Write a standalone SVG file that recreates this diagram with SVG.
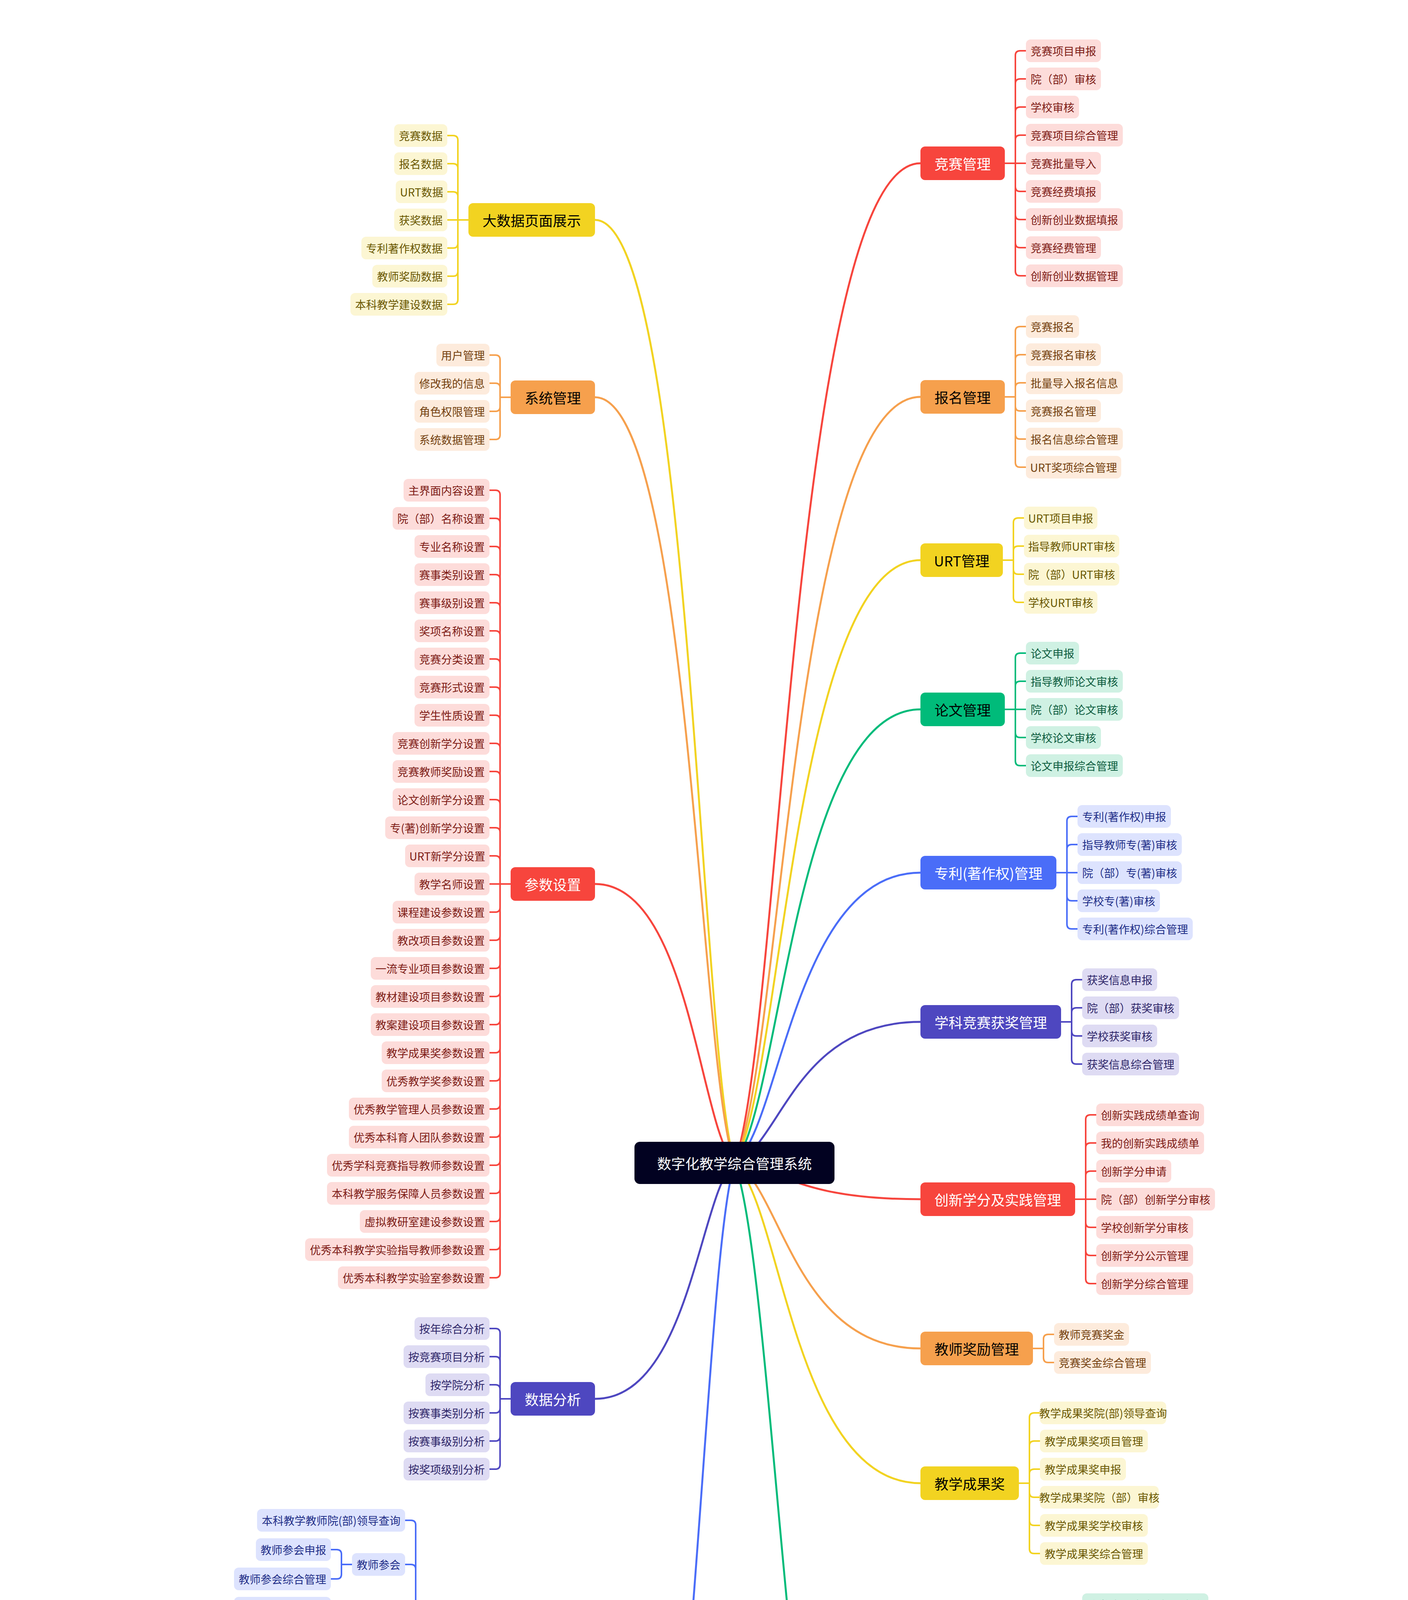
<svg xmlns="http://www.w3.org/2000/svg" width="3604" height="7462" viewBox="0 0 3604 7462">
<style>
text{font-family:"Noto Sans CJK SC","Noto Sans",sans-serif;text-anchor:middle;dominant-baseline:central}
.l text{font-size:28px}
.m text{font-size:36px}
.l rect{rx:12px}
.m rect{rx:12px}
.lr rect{fill:#FDDCDA}.lr text{fill:#7D1B15}
.lo rect{fill:#FDEBDC}.lo text{fill:#733F0E}
.ly rect{fill:#FCF6D3}.ly text{fill:#695700}
.lg rect{fill:#CFF1E3}.lg text{fill:#0C5C3E}
.lb rect{fill:#DDE3FE}.lb text{fill:#1F2E88}
.li rect{fill:#DEDBF3}.li text{fill:#2D2568}
.mr rect{fill:#F7453D}.mr text{fill:#FFFFFF}
.mo rect{fill:#F6A04D}.mo text{fill:#000000}
.my rect{fill:#F2D321}.my text{fill:#000000}
.mg rect{fill:#00BB7A}.mg text{fill:#000000}
.mb rect{fill:#4A6DF8}.mb text{fill:#FFFFFF}
.mi rect{fill:#4E47C0}.mi text{fill:#FFFFFF}
#root rect{fill:#020221}#root text{fill:#FFFFFF;font-size:36px}
.c{fill:none;stroke-width:4;stroke-linecap:round;stroke-linejoin:round}
.cv{fill:none;stroke-width:5;stroke-linecap:round}
.sr{stroke:#F7453D}.so{stroke:#F6A04D}.sy{stroke:#F2D321}.sg{stroke:#00BB7A}.sb{stroke:#4A6DF8}.si{stroke:#4E47C0}
.wm{font-family:"Open Sans","Noto Sans",sans-serif;font-size:38px;fill:#CCCCCC;dominant-baseline:auto}
</style>
<rect x="0" y="0" width="3604" height="7462" fill="#FFFFFF"/>
<g id="connectors">
<path class="cv sr" d="M1880 2977C1999 2670 2032 418 2356 418"/>
<path class="cv so" d="M1880 2977C1999 2742 2032 1016 2356 1016"/>
<path class="cv sy" d="M1880 2977C1999 2792 2032 1434 2356 1434"/>
<path class="cv sg" d="M1880 2977C1999 2838 2032 1816 2356 1816"/>
<path class="cv sb" d="M1880 2977C1999 2888 2032 2234 2356 2234"/>
<path class="cv si" d="M1880 2977C1999 2934 2032 2616 2356 2616"/>
<path class="cv sr" d="M1880 2977C1999 2988 2032 3070 2356 3070"/>
<path class="cv so" d="M1880 2977C1999 3034 2032 3452 2356 3452"/>
<path class="cv sy" d="M1880 2977C1999 3075 2032 3797 2356 3797"/>
<path class="cv sg" d="M1880 2977C1999 3284 2032 5537 2356 5537"/>
<path class="cv sy" d="M1880 2977C1791 2687 1766 563 1523 563"/>
<path class="cv so" d="M1880 2977C1791 2742 1766 1017 1523 1017"/>
<path class="cv sr" d="M1880 2977C1791 2891 1766 2263 1523 2263"/>
<path class="cv si" d="M1880 2977C1791 3049 1766 3581 1523 3581"/>
<path class="cv sb" d="M1880 2977C1791 3267 1766 5394 1523 5394"/>
<path class="c sr" d="M2572 418H2599M2599 418V142Q2599 130 2611 130H2626M2599 418V214Q2599 202 2611 202H2626M2599 418V286Q2599 274 2611 274H2626M2599 418V358Q2599 346 2611 346H2626M2599 418H2626M2599 418V478Q2599 490 2611 490H2626M2599 418V550Q2599 562 2611 562H2626M2599 418V622Q2599 634 2611 634H2626M2599 418V694Q2599 706 2611 706H2626"/>
<path class="c so" d="M2572 1016H2599M2599 1016V848Q2599 836 2611 836H2626M2599 1016V920Q2599 908 2611 908H2626M2599 1016V992Q2599 980 2611 980H2626M2599 1016V1040Q2599 1052 2611 1052H2626M2599 1016V1112Q2599 1124 2611 1124H2626M2599 1016V1184Q2599 1196 2611 1196H2626"/>
<path class="c sy" d="M2567 1434H2594M2594 1434V1338Q2594 1326 2606 1326H2621M2594 1434V1410Q2594 1398 2606 1398H2621M2594 1434V1458Q2594 1470 2606 1470H2621M2594 1434V1530Q2594 1542 2606 1542H2621"/>
<path class="c sg" d="M2572 1816H2599M2599 1816V1684Q2599 1672 2611 1672H2626M2599 1816V1756Q2599 1744 2611 1744H2626M2599 1816H2626M2599 1816V1876Q2599 1888 2611 1888H2626M2599 1816V1948Q2599 1960 2611 1960H2626"/>
<path class="c sb" d="M2704 2234H2731M2731 2234V2102Q2731 2090 2743 2090H2758M2731 2234V2174Q2731 2162 2743 2162H2758M2731 2234H2758M2731 2234V2294Q2731 2306 2743 2306H2758M2731 2234V2366Q2731 2378 2743 2378H2758"/>
<path class="c si" d="M2716 2616H2743M2743 2616V2520Q2743 2508 2755 2508H2770M2743 2616V2592Q2743 2580 2755 2580H2770M2743 2616V2640Q2743 2652 2755 2652H2770M2743 2616V2712Q2743 2724 2755 2724H2770"/>
<path class="c sr" d="M2752 3070H2779M2779 3070V2866Q2779 2854 2791 2854H2806M2779 3070V2938Q2779 2926 2791 2926H2806M2779 3070V3010Q2779 2998 2791 2998H2806M2779 3070H2806M2779 3070V3130Q2779 3142 2791 3142H2806M2779 3070V3202Q2779 3214 2791 3214H2806M2779 3070V3274Q2779 3286 2791 3286H2806"/>
<path class="c so" d="M2644 3452H2671M2671 3452V3428Q2671 3416 2683 3416H2698M2671 3452V3476Q2671 3488 2683 3488H2698"/>
<path class="c sy" d="M2608 3797H2635M2635 3797V3629Q2635 3617 2647 3617H2662M2635 3797V3701Q2635 3689 2647 3689H2662M2635 3797V3773Q2635 3761 2647 3761H2662M2635 3797V3821Q2635 3833 2647 3833H2662M2635 3797V3893Q2635 3905 2647 3905H2662M2635 3797V3965Q2635 3977 2647 3977H2662"/>
<path class="c sg" d="M2716 5537H2743M2743 5537V4120Q2743 4108 2755 4108H2770M2743 5537V4383Q2743 4371 2755 4371H2770M2743 5537V4797Q2743 4785 2755 4785H2770M2743 5537V5173Q2743 5161 2755 5161H2770M2743 5537H2770M2743 5537V5901Q2743 5913 2755 5913H2770M2743 5537V6277Q2743 6289 2755 6289H2770M2743 5537V6653Q2743 6665 2755 6665H2770M2743 5537V7029Q2743 7041 2755 7041H2770"/>
<path class="c sg" d="M2906 4371H2933M2933 4371V4195Q2933 4183 2945 4183H2960M2933 4371V4270Q2933 4258 2945 4258H2960M2933 4371V4346Q2933 4334 2945 4334H2960M2933 4371V4397Q2933 4409 2945 4409H2960M2933 4371V4472Q2933 4484 2945 4484H2960M2933 4371V4547Q2933 4559 2945 4559H2960"/>
<path class="c sg" d="M2906 4785H2933M2933 4785V4646Q2933 4634 2945 4634H2960M2933 4785V4722Q2933 4710 2945 4710H2960M2933 4785H2960M2933 4785V4848Q2933 4860 2945 4860H2960M2933 4785V4923Q2933 4935 2945 4935H2960"/>
<path class="c sg" d="M2906 5161H2933M2933 5161V5022Q2933 5010 2945 5010H2960M2933 5161V5098Q2933 5086 2945 5086H2960M2933 5161H2960M2933 5161V5224Q2933 5236 2945 5236H2960M2933 5161V5299Q2933 5311 2945 5311H2960"/>
<path class="c sg" d="M2962 5537H2989M2989 5537V5398Q2989 5386 3001 5386H3016M2989 5537V5474Q2989 5462 3001 5462H3016M2989 5537H3016M2989 5537V5600Q2989 5612 3001 5612H3016M2989 5537V5675Q2989 5687 3001 5687H3016"/>
<path class="c sg" d="M2906 5913H2933M2933 5913V5774Q2933 5762 2945 5762H2960M2933 5913V5850Q2933 5838 2945 5838H2960M2933 5913H2960M2933 5913V5976Q2933 5988 2945 5988H2960M2933 5913V6051Q2933 6063 2945 6063H2960"/>
<path class="c sg" d="M2906 6289H2933M2933 6289V6150Q2933 6138 2945 6138H2960M2933 6289V6226Q2933 6214 2945 6214H2960M2933 6289H2960M2933 6289V6352Q2933 6364 2945 6364H2960M2933 6289V6427Q2933 6439 2945 6439H2960"/>
<path class="c sg" d="M2990 6665H3017M3017 6665V6526Q3017 6514 3029 6514H3044M3017 6665V6602Q3017 6590 3029 6590H3044M3017 6665H3044M3017 6665V6728Q3017 6740 3029 6740H3044M3017 6665V6803Q3017 6815 3029 6815H3044"/>
<path class="c sg" d="M3046 7041H3073M3073 7041V6902Q3073 6890 3085 6890H3100M3073 7041V6978Q3073 6966 3085 6966H3100M3073 7041H3100M3073 7041V7104Q3073 7116 3085 7116H3100M3073 7041V7179Q3073 7191 3085 7191H3100"/>
<path class="c sy" d="M1199 563H1172M1172 563V359Q1172 347 1160 347H1145M1172 563V431Q1172 419 1160 419H1145M1172 563V503Q1172 491 1160 491H1145M1172 563H1145M1172 563V623Q1172 635 1160 635H1145M1172 563V695Q1172 707 1160 707H1145M1172 563V767Q1172 779 1160 779H1145"/>
<path class="c so" d="M1307 1017H1280M1280 1017V921Q1280 909 1268 909H1253M1280 1017V993Q1280 981 1268 981H1253M1280 1017V1041Q1280 1053 1268 1053H1253M1280 1017V1113Q1280 1125 1268 1125H1253"/>
<path class="c sr" d="M1307 2263H1280M1280 2263V1267Q1280 1255 1268 1255H1253M1280 2263V1339Q1280 1327 1268 1327H1253M1280 2263V1411Q1280 1399 1268 1399H1253M1280 2263V1483Q1280 1471 1268 1471H1253M1280 2263V1555Q1280 1543 1268 1543H1253M1280 2263V1627Q1280 1615 1268 1615H1253M1280 2263V1699Q1280 1687 1268 1687H1253M1280 2263V1771Q1280 1759 1268 1759H1253M1280 2263V1843Q1280 1831 1268 1831H1253M1280 2263V1915Q1280 1903 1268 1903H1253M1280 2263V1987Q1280 1975 1268 1975H1253M1280 2263V2059Q1280 2047 1268 2047H1253M1280 2263V2131Q1280 2119 1268 2119H1253M1280 2263V2203Q1280 2191 1268 2191H1253M1280 2263H1253M1280 2263V2323Q1280 2335 1268 2335H1253M1280 2263V2395Q1280 2407 1268 2407H1253M1280 2263V2467Q1280 2479 1268 2479H1253M1280 2263V2539Q1280 2551 1268 2551H1253M1280 2263V2611Q1280 2623 1268 2623H1253M1280 2263V2683Q1280 2695 1268 2695H1253M1280 2263V2755Q1280 2767 1268 2767H1253M1280 2263V2827Q1280 2839 1268 2839H1253M1280 2263V2899Q1280 2911 1268 2911H1253M1280 2263V2971Q1280 2983 1268 2983H1253M1280 2263V3043Q1280 3055 1268 3055H1253M1280 2263V3115Q1280 3127 1268 3127H1253M1280 2263V3187Q1280 3199 1268 3199H1253M1280 2263V3259Q1280 3271 1268 3271H1253"/>
<path class="c si" d="M1307 3581H1280M1280 3581V3413Q1280 3401 1268 3401H1253M1280 3581V3485Q1280 3473 1268 3473H1253M1280 3581V3557Q1280 3545 1268 3545H1253M1280 3581V3605Q1280 3617 1268 3617H1253M1280 3581V3677Q1280 3689 1268 3689H1253M1280 3581V3749Q1280 3761 1268 3761H1253"/>
<path class="c sb" d="M1091 5394H1064M1064 5394V3904Q1064 3892 1052 3892H1037M1064 5394V4017Q1064 4005 1052 4005H1037M1064 5394V4280Q1064 4268 1052 4268H1037M1064 5394V4655Q1064 4643 1052 4643H1037M1064 5394V5031Q1064 5019 1052 5019H1037M1064 5394H1037M1064 5394V5758Q1064 5770 1052 5770H1037M1064 5394V6133Q1064 6145 1052 6145H1037M1064 5394V6509Q1064 6521 1052 6521H1037M1064 5394V6922Q1064 6934 1052 6934H1037"/>
<path class="c sb" d="M901 4005H874M874 4005V3979Q874 3967 862 3967H847M874 4005V4030Q874 4042 862 4042H847"/>
<path class="c sb" d="M901 4268H874M874 4268V4129Q874 4117 862 4117H847M874 4268V4204Q874 4192 862 4192H847M874 4268H847M874 4268V4331Q874 4343 862 4343H847M874 4268V4406Q874 4418 862 4418H847"/>
<path class="c sb" d="M873 4643H846M846 4643V4505Q846 4493 834 4493H819M846 4643V4580Q846 4568 834 4568H819M846 4643H819M846 4643V4706Q846 4718 834 4718H819M846 4643V4781Q846 4793 834 4793H819"/>
<path class="c sb" d="M789 5019H762M762 5019V4880Q762 4868 750 4868H735M762 5019V4955Q762 4943 750 4943H735M762 5019H735M762 5019V5082Q762 5094 750 5094H735M762 5019V5157Q762 5169 750 5169H735"/>
<path class="c sb" d="M789 5394H762M762 5394V5256Q762 5244 750 5244H735M762 5394V5331Q762 5319 750 5319H735M762 5394H735M762 5394V5457Q762 5469 750 5469H735M762 5394V5532Q762 5544 750 5544H735"/>
<path class="c sb" d="M733 5770H706M706 5770V5631Q706 5619 694 5619H679M706 5770V5706Q706 5694 694 5694H679M706 5770H679M706 5770V5833Q706 5845 694 5845H679M706 5770V5908Q706 5920 694 5920H679"/>
<path class="c sb" d="M677 6145H650M650 6145V6007Q650 5995 638 5995H623M650 6145V6082Q650 6070 638 6070H623M650 6145H623M650 6145V6208Q650 6220 638 6220H623M650 6145V6283Q650 6295 638 6295H623"/>
<path class="c sb" d="M677 6521H650M650 6521V6382Q650 6370 638 6370H623M650 6521V6457Q650 6445 638 6445H623M650 6521H623M650 6521V6584Q650 6596 638 6596H623M650 6521V6659Q650 6671 638 6671H623"/>
<path class="c sb" d="M845 6934H818M818 6934V6758Q818 6746 806 6746H791M818 6934V6833Q818 6821 806 6821H791M818 6934V6908Q818 6896 806 6896H791M818 6934V6959Q818 6971 806 6971H791M818 6934V7034Q818 7046 806 7046H791M818 6934V7109Q818 7121 806 7121H791"/>
</g>
<g id="root"><rect x="1624" y="2923" width="512" height="108" rx="14"/><text x="1880" y="2977">数字化教学综合管理系统</text></g>
<g id="n-jsgl" class="m mr"><rect x="2356" y="375" width="216" height="86"/><text x="2464" y="418">竞赛管理</text></g>
<g id="a1" class="l lr"><rect x="2626" y="101" width="192" height="58"/><text x="2722" y="130">竞赛项目申报</text></g>
<g id="a2" class="l lr"><rect x="2626" y="173" width="192" height="58"/><text x="2722" y="202">院（部）审核</text></g>
<g id="a3" class="l lr"><rect x="2626" y="245" width="136" height="58"/><text x="2694" y="274">学校审核</text></g>
<g id="a4" class="l lr"><rect x="2626" y="317" width="248" height="58"/><text x="2750" y="346">竞赛项目综合管理</text></g>
<g id="a5" class="l lr"><rect x="2626" y="389" width="192" height="58"/><text x="2722" y="418">竞赛批量导入</text></g>
<g id="a6" class="l lr"><rect x="2626" y="461" width="192" height="58"/><text x="2722" y="490">竞赛经费填报</text></g>
<g id="a7" class="l lr"><rect x="2626" y="533" width="248" height="58"/><text x="2750" y="562">创新创业数据填报</text></g>
<g id="a8" class="l lr"><rect x="2626" y="605" width="192" height="58"/><text x="2722" y="634">竞赛经费管理</text></g>
<g id="a9" class="l lr"><rect x="2626" y="677" width="248" height="58"/><text x="2750" y="706">创新创业数据管理</text></g>
<g id="n-bmgl" class="m mo"><rect x="2356" y="973" width="216" height="86"/><text x="2464" y="1016">报名管理</text></g>
<g id="b1" class="l lo"><rect x="2626" y="807" width="136" height="58"/><text x="2694" y="836">竞赛报名</text></g>
<g id="b2" class="l lo"><rect x="2626" y="879" width="192" height="58"/><text x="2722" y="908">竞赛报名审核</text></g>
<g id="b3" class="l lo"><rect x="2626" y="951" width="248" height="58"/><text x="2750" y="980">批量导入报名信息</text></g>
<g id="b4" class="l lo"><rect x="2626" y="1023" width="192" height="58"/><text x="2722" y="1052">竞赛报名管理</text></g>
<g id="b5" class="l lo"><rect x="2626" y="1095" width="248" height="58"/><text x="2750" y="1124">报名信息综合管理</text></g>
<g id="b6" class="l lo"><rect x="2626" y="1167" width="244" height="58"/><text x="2748" y="1196">URT奖项综合管理</text></g>
<g id="n-urt" class="m my"><rect x="2356" y="1391" width="211" height="86"/><text x="2461.5" y="1434">URT管理</text></g>
<g id="c1" class="l ly"><rect x="2621" y="1297" width="188" height="58"/><text x="2715" y="1326">URT项目申报</text></g>
<g id="c2" class="l ly"><rect x="2621" y="1369" width="244" height="58"/><text x="2743" y="1398">指导教师URT审核</text></g>
<g id="c3" class="l ly"><rect x="2621" y="1441" width="244" height="58"/><text x="2743" y="1470">院（部）URT审核</text></g>
<g id="c4" class="l ly"><rect x="2621" y="1513" width="188" height="58"/><text x="2715" y="1542">学校URT审核</text></g>
<g id="n-lw" class="m mg"><rect x="2356" y="1773" width="216" height="86"/><text x="2464" y="1816">论文管理</text></g>
<g id="d1" class="l lg"><rect x="2626" y="1643" width="136" height="58"/><text x="2694" y="1672">论文申报</text></g>
<g id="d2" class="l lg"><rect x="2626" y="1715" width="248" height="58"/><text x="2750" y="1744">指导教师论文审核</text></g>
<g id="d3" class="l lg"><rect x="2626" y="1787" width="248" height="58"/><text x="2750" y="1816">院（部）论文审核</text></g>
<g id="d4" class="l lg"><rect x="2626" y="1859" width="192" height="58"/><text x="2722" y="1888">学校论文审核</text></g>
<g id="d5" class="l lg"><rect x="2626" y="1931" width="248" height="58"/><text x="2750" y="1960">论文申报综合管理</text></g>
<g id="n-zl" class="m mb"><rect x="2356" y="2191" width="348" height="86"/><text x="2530" y="2234">专利(著作权)管理</text></g>
<g id="e1" class="l lb"><rect x="2758" y="2061" width="239" height="58"/><text x="2877.5" y="2090">专利(著作权)申报</text></g>
<g id="e2" class="l lb"><rect x="2758" y="2133" width="267" height="58"/><text x="2891.5" y="2162">指导教师专(著)审核</text></g>
<g id="e3" class="l lb"><rect x="2758" y="2205" width="267" height="58"/><text x="2891.5" y="2234">院（部）专(著)审核</text></g>
<g id="e4" class="l lb"><rect x="2758" y="2277" width="211" height="58"/><text x="2863.5" y="2306">学校专(著)审核</text></g>
<g id="e5" class="l lb"><rect x="2758" y="2349" width="295" height="58"/><text x="2905.5" y="2378">专利(著作权)综合管理</text></g>
<g id="n-xkjs" class="m mi"><rect x="2356" y="2573" width="360" height="86"/><text x="2536" y="2616">学科竞赛获奖管理</text></g>
<g id="f1" class="l li"><rect x="2770" y="2479" width="192" height="58"/><text x="2866" y="2508">获奖信息申报</text></g>
<g id="f2" class="l li"><rect x="2770" y="2551" width="248" height="58"/><text x="2894" y="2580">院（部）获奖审核</text></g>
<g id="f3" class="l li"><rect x="2770" y="2623" width="192" height="58"/><text x="2866" y="2652">学校获奖审核</text></g>
<g id="f4" class="l li"><rect x="2770" y="2695" width="248" height="58"/><text x="2894" y="2724">获奖信息综合管理</text></g>
<g id="n-cxxf" class="m mr"><rect x="2356" y="3027" width="396" height="86"/><text x="2554" y="3070">创新学分及实践管理</text></g>
<g id="g1" class="l lr"><rect x="2806" y="2825" width="276" height="58"/><text x="2944" y="2854">创新实践成绩单查询</text></g>
<g id="g2" class="l lr"><rect x="2806" y="2897" width="276" height="58"/><text x="2944" y="2926">我的创新实践成绩单</text></g>
<g id="g3" class="l lr"><rect x="2806" y="2969" width="192" height="58"/><text x="2902" y="2998">创新学分申请</text></g>
<g id="g4" class="l lr"><rect x="2806" y="3041" width="304" height="58"/><text x="2958" y="3070">院（部）创新学分审核</text></g>
<g id="g5" class="l lr"><rect x="2806" y="3113" width="248" height="58"/><text x="2930" y="3142">学校创新学分审核</text></g>
<g id="g6" class="l lr"><rect x="2806" y="3185" width="248" height="58"/><text x="2930" y="3214">创新学分公示管理</text></g>
<g id="g7" class="l lr"><rect x="2806" y="3257" width="248" height="58"/><text x="2930" y="3286">创新学分综合管理</text></g>
<g id="n-jsjl" class="m mo"><rect x="2356" y="3409" width="288" height="86"/><text x="2500" y="3452">教师奖励管理</text></g>
<g id="h1" class="l lo"><rect x="2698" y="3387" width="192" height="58"/><text x="2794" y="3416">教师竞赛奖金</text></g>
<g id="h2" class="l lo"><rect x="2698" y="3459" width="248" height="58"/><text x="2822" y="3488">竞赛奖金综合管理</text></g>
<g id="n-cgj" class="m my"><rect x="2356" y="3754" width="252" height="86"/><text x="2482" y="3797">教学成果奖</text></g>
<g id="i1" class="l ly"><rect x="2662" y="3588" width="323" height="58"/><text x="2823.5" y="3617">教学成果奖院(部)领导查询</text></g>
<g id="i2" class="l ly"><rect x="2662" y="3660" width="276" height="58"/><text x="2800" y="3689">教学成果奖项目管理</text></g>
<g id="i3" class="l ly"><rect x="2662" y="3732" width="220" height="58"/><text x="2772" y="3761">教学成果奖申报</text></g>
<g id="i4" class="l ly"><rect x="2662" y="3804" width="304" height="58"/><text x="2814" y="3833">教学成果奖院（部）审核</text></g>
<g id="i5" class="l ly"><rect x="2662" y="3876" width="276" height="58"/><text x="2800" y="3905">教学成果奖学校审核</text></g>
<g id="i6" class="l ly"><rect x="2662" y="3948" width="276" height="58"/><text x="2800" y="3977">教学成果奖综合管理</text></g>
<g id="n-bkjs" class="m mg"><rect x="2356" y="5494" width="360" height="86"/><text x="2536" y="5537">本科教学建设项目</text></g>
<g id="j0" class="l lg"><rect x="2770" y="4079" width="323" height="58"/><text x="2931.5" y="4108">教学建设院(部)领导查询</text></g>
<g id="j1" class="l lg"><rect x="2770" y="4342" width="136" height="58"/><text x="2838" y="4371">外聘教师</text></g>
<g id="j2" class="l lg"><rect x="2770" y="4756" width="136" height="58"/><text x="2838" y="4785">课程建设</text></g>
<g id="j3" class="l lg"><rect x="2770" y="5132" width="136" height="58"/><text x="2838" y="5161">教改项目</text></g>
<g id="j4" class="l lg"><rect x="2770" y="5508" width="192" height="58"/><text x="2866" y="5537">一流专业建设</text></g>
<g id="j5" class="l lg"><rect x="2770" y="5884" width="136" height="58"/><text x="2838" y="5913">教材建设</text></g>
<g id="j6" class="l lg"><rect x="2770" y="6260" width="136" height="58"/><text x="2838" y="6289">教案建设</text></g>
<g id="j7" class="l lg"><rect x="2770" y="6636" width="220" height="58"/><text x="2880" y="6665">虚拟教研室建设</text></g>
<g id="j8" class="l lg"><rect x="2770" y="7012" width="276" height="58"/><text x="2908" y="7041">优秀本科教学实验室</text></g>
<g id="j1a" class="l lg"><rect x="2960" y="4154" width="248" height="58"/><text x="3084" y="4183">外聘教师项目管理</text></g>
<g id="j1b" class="l lg"><rect x="2960" y="4229" width="248" height="58"/><text x="3084" y="4258">外聘教师项目申报</text></g>
<g id="j1c" class="l lg"><rect x="2960" y="4305" width="267" height="58"/><text x="3093.5" y="4334">外聘教师院(部)审核</text></g>
<g id="j1d" class="l lg"><rect x="2960" y="4380" width="323" height="58"/><text x="3121.5" y="4409">外聘教师院(部)领导审核</text></g>
<g id="j1e" class="l lg"><rect x="2960" y="4455" width="248" height="58"/><text x="3084" y="4484">外聘教师学校审核</text></g>
<g id="j1f" class="l lg"><rect x="2960" y="4530" width="248" height="58"/><text x="3084" y="4559">外聘教师综合管理</text></g>
<g id="j2a" class="l lg"><rect x="2960" y="4605" width="248" height="58"/><text x="3084" y="4634">课程建设项目管理</text></g>
<g id="j2b" class="l lg"><rect x="2960" y="4681" width="192" height="58"/><text x="3056" y="4710">课程建设申报</text></g>
<g id="j2c" class="l lg"><rect x="2960" y="4756" width="304" height="58"/><text x="3112" y="4785">课程建设院（部）审核</text></g>
<g id="j2d" class="l lg"><rect x="2960" y="4831" width="248" height="58"/><text x="3084" y="4860">课程建设学校审核</text></g>
<g id="j2e" class="l lg"><rect x="2960" y="4906" width="304" height="58"/><text x="3112" y="4935">课程建设申报综合管理</text></g>
<g id="j3a" class="l lg"><rect x="2960" y="4981" width="192" height="58"/><text x="3056" y="5010">教改项目管理</text></g>
<g id="j3b" class="l lg"><rect x="2960" y="5057" width="192" height="58"/><text x="3056" y="5086">教改项目申报</text></g>
<g id="j3c" class="l lg"><rect x="2960" y="5132" width="304" height="58"/><text x="3112" y="5161">教改项目院（部）审核</text></g>
<g id="j3d" class="l lg"><rect x="2960" y="5207" width="248" height="58"/><text x="3084" y="5236">教改项目学校审核</text></g>
<g id="j3e" class="l lg"><rect x="2960" y="5282" width="304" height="58"/><text x="3112" y="5311">教改项目申报综合管理</text></g>
<g id="j4a" class="l lg"><rect x="3016" y="5357" width="304" height="58"/><text x="3168" y="5386">一流专业建设项目管理</text></g>
<g id="j4b" class="l lg"><rect x="3016" y="5433" width="248" height="58"/><text x="3140" y="5462">一流专业建设申报</text></g>
<g id="j4c" class="l lg"><rect x="3016" y="5508" width="323" height="58"/><text x="3177.5" y="5537">一流专业建设院(部)审核</text></g>
<g id="j4d" class="l lg"><rect x="3016" y="5583" width="304" height="58"/><text x="3168" y="5612">一流专业建设学校审核</text></g>
<g id="j4e" class="l lg"><rect x="3016" y="5658" width="304" height="58"/><text x="3168" y="5687">一流专业建设综合管理</text></g>
<g id="j5a" class="l lg"><rect x="2960" y="5733" width="248" height="58"/><text x="3084" y="5762">教材建设项目管理</text></g>
<g id="j5b" class="l lg"><rect x="2960" y="5809" width="192" height="58"/><text x="3056" y="5838">教材建设申报</text></g>
<g id="j5c" class="l lg"><rect x="2960" y="5884" width="267" height="58"/><text x="3093.5" y="5913">教材建设院(部)审核</text></g>
<g id="j5d" class="l lg"><rect x="2960" y="5959" width="248" height="58"/><text x="3084" y="5988">教材建设学校审核</text></g>
<g id="j5e" class="l lg"><rect x="2960" y="6034" width="248" height="58"/><text x="3084" y="6063">教材建设综合管理</text></g>
<g id="j6a" class="l lg"><rect x="2960" y="6109" width="248" height="58"/><text x="3084" y="6138">教案建设项目管理</text></g>
<g id="j6b" class="l lg"><rect x="2960" y="6185" width="192" height="58"/><text x="3056" y="6214">教案建设申报</text></g>
<g id="j6c" class="l lg"><rect x="2960" y="6260" width="267" height="58"/><text x="3093.5" y="6289">教案建设院(部)审核</text></g>
<g id="j6d" class="l lg"><rect x="2960" y="6335" width="248" height="58"/><text x="3084" y="6364">教案建设学校审核</text></g>
<g id="j6e" class="l lg"><rect x="2960" y="6410" width="248" height="58"/><text x="3084" y="6439">教案建设综合管理</text></g>
<g id="j7a" class="l lg"><rect x="3044" y="6485" width="332" height="58"/><text x="3210" y="6514">虚拟教研室建设项目管理</text></g>
<g id="j7b" class="l lg"><rect x="3044" y="6561" width="220" height="58"/><text x="3154" y="6590">虚拟教研室申报</text></g>
<g id="j7c" class="l lg"><rect x="3044" y="6636" width="295" height="58"/><text x="3191.5" y="6665">虚拟教研室院(部)审核</text></g>
<g id="j7d" class="l lg"><rect x="3044" y="6711" width="276" height="58"/><text x="3182" y="6740">虚拟教研室学校审核</text></g>
<g id="j7e" class="l lg"><rect x="3044" y="6786" width="276" height="58"/><text x="3182" y="6815">虚拟教研室综合管理</text></g>
<g id="j8a" class="l lg"><rect x="3100" y="6861" width="388" height="58"/><text x="3294" y="6890">优秀本科教学实验室项目管理</text></g>
<g id="j8b" class="l lg"><rect x="3100" y="6937" width="332" height="58"/><text x="3266" y="6966">优秀本科教学实验室申报</text></g>
<g id="j8c" class="l lg"><rect x="3100" y="7012" width="407" height="58"/><text x="3303.5" y="7041">优秀本科教学实验室院(部)审核</text></g>
<g id="j8d" class="l lg"><rect x="3100" y="7087" width="388" height="58"/><text x="3294" y="7116">优秀本科教学实验室学校审核</text></g>
<g id="j8e" class="l lg"><rect x="3100" y="7162" width="388" height="58"/><text x="3294" y="7191">优秀本科教学实验室综合管理</text></g>
<g id="n-dsj" class="m my"><rect x="1199" y="520" width="324" height="86"/><text x="1361" y="563">大数据页面展示</text></g>
<g id="k1" class="l ly"><rect x="1009" y="318" width="136" height="58"/><text x="1077" y="347">竞赛数据</text></g>
<g id="k2" class="l ly"><rect x="1009" y="390" width="136" height="58"/><text x="1077" y="419">报名数据</text></g>
<g id="k3" class="l ly"><rect x="1013" y="462" width="132" height="58"/><text x="1079" y="491">URT数据</text></g>
<g id="k4" class="l ly"><rect x="1009" y="534" width="136" height="58"/><text x="1077" y="563">获奖数据</text></g>
<g id="k5" class="l ly"><rect x="925" y="606" width="220" height="58"/><text x="1035" y="635">专利著作权数据</text></g>
<g id="k6" class="l ly"><rect x="953" y="678" width="192" height="58"/><text x="1049" y="707">教师奖励数据</text></g>
<g id="k7" class="l ly"><rect x="897" y="750" width="248" height="58"/><text x="1021" y="779">本科教学建设数据</text></g>
<g id="n-xtgl" class="m mo"><rect x="1307" y="974" width="216" height="86"/><text x="1415" y="1017">系统管理</text></g>
<g id="l1" class="l lo"><rect x="1117" y="880" width="136" height="58"/><text x="1185" y="909">用户管理</text></g>
<g id="l2" class="l lo"><rect x="1061" y="952" width="192" height="58"/><text x="1157" y="981">修改我的信息</text></g>
<g id="l3" class="l lo"><rect x="1061" y="1024" width="192" height="58"/><text x="1157" y="1053">角色权限管理</text></g>
<g id="l4" class="l lo"><rect x="1061" y="1096" width="192" height="58"/><text x="1157" y="1125">系统数据管理</text></g>
<g id="n-cssz" class="m mr"><rect x="1307" y="2220" width="216" height="86"/><text x="1415" y="2263">参数设置</text></g>
<g id="m0" class="l lr"><rect x="1033" y="1226" width="220" height="58"/><text x="1143" y="1255">主界面内容设置</text></g>
<g id="m1" class="l lr"><rect x="1005" y="1298" width="248" height="58"/><text x="1129" y="1327">院（部）名称设置</text></g>
<g id="m2" class="l lr"><rect x="1061" y="1370" width="192" height="58"/><text x="1157" y="1399">专业名称设置</text></g>
<g id="m3" class="l lr"><rect x="1061" y="1442" width="192" height="58"/><text x="1157" y="1471">赛事类别设置</text></g>
<g id="m4" class="l lr"><rect x="1061" y="1514" width="192" height="58"/><text x="1157" y="1543">赛事级别设置</text></g>
<g id="m5" class="l lr"><rect x="1061" y="1586" width="192" height="58"/><text x="1157" y="1615">奖项名称设置</text></g>
<g id="m6" class="l lr"><rect x="1061" y="1658" width="192" height="58"/><text x="1157" y="1687">竞赛分类设置</text></g>
<g id="m7" class="l lr"><rect x="1061" y="1730" width="192" height="58"/><text x="1157" y="1759">竞赛形式设置</text></g>
<g id="m8" class="l lr"><rect x="1061" y="1802" width="192" height="58"/><text x="1157" y="1831">学生性质设置</text></g>
<g id="m9" class="l lr"><rect x="1005" y="1874" width="248" height="58"/><text x="1129" y="1903">竞赛创新学分设置</text></g>
<g id="m10" class="l lr"><rect x="1005" y="1946" width="248" height="58"/><text x="1129" y="1975">竞赛教师奖励设置</text></g>
<g id="m11" class="l lr"><rect x="1005" y="2018" width="248" height="58"/><text x="1129" y="2047">论文创新学分设置</text></g>
<g id="m12" class="l lr"><rect x="986" y="2090" width="267" height="58"/><text x="1119.5" y="2119">专(著)创新学分设置</text></g>
<g id="m13" class="l lr"><rect x="1037" y="2162" width="216" height="58"/><text x="1145" y="2191">URT新学分设置</text></g>
<g id="m14" class="l lr"><rect x="1061" y="2234" width="192" height="58"/><text x="1157" y="2263">教学名师设置</text></g>
<g id="m15" class="l lr"><rect x="1005" y="2306" width="248" height="58"/><text x="1129" y="2335">课程建设参数设置</text></g>
<g id="m16" class="l lr"><rect x="1005" y="2378" width="248" height="58"/><text x="1129" y="2407">教改项目参数设置</text></g>
<g id="m17" class="l lr"><rect x="949" y="2450" width="304" height="58"/><text x="1101" y="2479">一流专业项目参数设置</text></g>
<g id="m18" class="l lr"><rect x="949" y="2522" width="304" height="58"/><text x="1101" y="2551">教材建设项目参数设置</text></g>
<g id="m19" class="l lr"><rect x="949" y="2594" width="304" height="58"/><text x="1101" y="2623">教案建设项目参数设置</text></g>
<g id="m20" class="l lr"><rect x="977" y="2666" width="276" height="58"/><text x="1115" y="2695">教学成果奖参数设置</text></g>
<g id="m21" class="l lr"><rect x="977" y="2738" width="276" height="58"/><text x="1115" y="2767">优秀教学奖参数设置</text></g>
<g id="m22" class="l lr"><rect x="893" y="2810" width="360" height="58"/><text x="1073" y="2839">优秀教学管理人员参数设置</text></g>
<g id="m23" class="l lr"><rect x="893" y="2882" width="360" height="58"/><text x="1073" y="2911">优秀本科育人团队参数设置</text></g>
<g id="m24" class="l lr"><rect x="837" y="2954" width="416" height="58"/><text x="1045" y="2983">优秀学科竞赛指导教师参数设置</text></g>
<g id="m25" class="l lr"><rect x="837" y="3026" width="416" height="58"/><text x="1045" y="3055">本科教学服务保障人员参数设置</text></g>
<g id="m26" class="l lr"><rect x="921" y="3098" width="332" height="58"/><text x="1087" y="3127">虚拟教研室建设参数设置</text></g>
<g id="m27" class="l lr"><rect x="781" y="3170" width="472" height="58"/><text x="1017" y="3199">优秀本科教学实验指导教师参数设置</text></g>
<g id="m28" class="l lr"><rect x="865" y="3242" width="388" height="58"/><text x="1059" y="3271">优秀本科教学实验室参数设置</text></g>
<g id="n-sjfx" class="m mi"><rect x="1307" y="3538" width="216" height="86"/><text x="1415" y="3581">数据分析</text></g>
<g id="p1" class="l li"><rect x="1061" y="3372" width="192" height="58"/><text x="1157" y="3401">按年综合分析</text></g>
<g id="p2" class="l li"><rect x="1033" y="3444" width="220" height="58"/><text x="1143" y="3473">按竞赛项目分析</text></g>
<g id="p3" class="l li"><rect x="1089" y="3516" width="164" height="58"/><text x="1171" y="3545">按学院分析</text></g>
<g id="p4" class="l li"><rect x="1033" y="3588" width="220" height="58"/><text x="1143" y="3617">按赛事类别分析</text></g>
<g id="p5" class="l li"><rect x="1033" y="3660" width="220" height="58"/><text x="1143" y="3689">按赛事级别分析</text></g>
<g id="p6" class="l li"><rect x="1033" y="3732" width="220" height="58"/><text x="1143" y="3761">按奖项级别分析</text></g>
<g id="n-ry" class="m mb"><rect x="1091" y="5351" width="432" height="86"/><text x="1307" y="5394">本科教学教师荣誉项目</text></g>
<g id="o0" class="l lb"><rect x="658" y="3863" width="379" height="58"/><text x="847.5" y="3892">本科教学教师院(部)领导查询</text></g>
<g id="o1" class="l lb"><rect x="901" y="3976" width="136" height="58"/><text x="969" y="4005">教师参会</text></g>
<g id="o2" class="l lb"><rect x="901" y="4239" width="136" height="58"/><text x="969" y="4268">教学名师</text></g>
<g id="o3" class="l lb"><rect x="873" y="4614" width="164" height="58"/><text x="955" y="4643">优秀教学奖</text></g>
<g id="o4" class="l lb"><rect x="789" y="4990" width="248" height="58"/><text x="913" y="5019">优秀教学管理人员</text></g>
<g id="o5" class="l lb"><rect x="789" y="5365" width="248" height="58"/><text x="913" y="5394">优秀本科育人团队</text></g>
<g id="o6" class="l lb"><rect x="733" y="5741" width="304" height="58"/><text x="885" y="5770">优秀学科竞赛指导教师</text></g>
<g id="o7" class="l lb"><rect x="677" y="6116" width="360" height="58"/><text x="857" y="6145">优秀本科教学服务保障人员</text></g>
<g id="o8" class="l lb"><rect x="677" y="6492" width="360" height="58"/><text x="857" y="6521">优秀本科教学实验指导教师</text></g>
<g id="o9" class="l lb"><rect x="845" y="6905" width="192" height="58"/><text x="941" y="6934">教学技能竞赛</text></g>
<g id="o1a" class="l lb"><rect x="655" y="3938" width="192" height="58"/><text x="751" y="3967">教师参会申报</text></g>
<g id="o1b" class="l lb"><rect x="599" y="4013" width="248" height="58"/><text x="723" y="4042">教师参会综合管理</text></g>
<g id="o2a" class="l lb"><rect x="599" y="4088" width="248" height="58"/><text x="723" y="4117">教学名师项目管理</text></g>
<g id="o2b" class="l lb"><rect x="655" y="4163" width="192" height="58"/><text x="751" y="4192">教学名师申报</text></g>
<g id="o2c" class="l lb"><rect x="543" y="4239" width="304" height="58"/><text x="695" y="4268">教学名师院（部）审核</text></g>
<g id="o2d" class="l lb"><rect x="599" y="4314" width="248" height="58"/><text x="723" y="4343">教学名师学校审核</text></g>
<g id="o2e" class="l lb"><rect x="543" y="4389" width="304" height="58"/><text x="695" y="4418">教学名师申报综合管理</text></g>
<g id="o3a" class="l lb"><rect x="543" y="4464" width="276" height="58"/><text x="681" y="4493">优秀教学奖项目管理</text></g>
<g id="o3b" class="l lb"><rect x="599" y="4539" width="220" height="58"/><text x="709" y="4568">优秀教学奖申报</text></g>
<g id="o3c" class="l lb"><rect x="487" y="4614" width="332" height="58"/><text x="653" y="4643">优秀教学奖院（部）审核</text></g>
<g id="o3d" class="l lb"><rect x="543" y="4689" width="276" height="58"/><text x="681" y="4718">优秀教学奖学校审核</text></g>
<g id="o3e" class="l lb"><rect x="543" y="4764" width="276" height="58"/><text x="681" y="4793">优秀教学奖查询管理</text></g>
<g id="o4a" class="l lb"><rect x="375" y="4839" width="360" height="58"/><text x="555" y="4868">优秀教学管理人员项目管理</text></g>
<g id="o4b" class="l lb"><rect x="431" y="4914" width="304" height="58"/><text x="583" y="4943">优秀教学管理人员申报</text></g>
<g id="o4c" class="l lb"><rect x="319" y="4990" width="416" height="58"/><text x="527" y="5019">优秀教学管理人员院（部）审核</text></g>
<g id="o4d" class="l lb"><rect x="375" y="5065" width="360" height="58"/><text x="555" y="5094">优秀教学管理人员学校审核</text></g>
<g id="o4e" class="l lb"><rect x="375" y="5140" width="360" height="58"/><text x="555" y="5169">优秀教学管理人员查询管理</text></g>
<g id="o5a" class="l lb"><rect x="375" y="5215" width="360" height="58"/><text x="555" y="5244">优秀本科育人团队项目管理</text></g>
<g id="o5b" class="l lb"><rect x="431" y="5290" width="304" height="58"/><text x="583" y="5319">优秀本科育人团队申报</text></g>
<g id="o5c" class="l lb"><rect x="319" y="5365" width="416" height="58"/><text x="527" y="5394">优秀本科育人团队院（部）审核</text></g>
<g id="o5d" class="l lb"><rect x="375" y="5440" width="360" height="58"/><text x="555" y="5469">优秀本科育人团队学校审核</text></g>
<g id="o5e" class="l lb"><rect x="375" y="5515" width="360" height="58"/><text x="555" y="5544">优秀本科育人团队查询管理</text></g>
<g id="o6a" class="l lb"><rect x="263" y="5590" width="416" height="58"/><text x="471" y="5619">优秀学科竞赛指导教师项目管理</text></g>
<g id="o6b" class="l lb"><rect x="319" y="5665" width="360" height="58"/><text x="499" y="5694">优秀学科竞赛指导教师申报</text></g>
<g id="o6c" class="l lb"><rect x="209" y="5741" width="470" height="58"/><text x="444" y="5770">优秀学科竞赛指导教师院（部）审核</text></g>
<g id="o6d" class="l lb"><rect x="263" y="5816" width="416" height="58"/><text x="471" y="5845">优秀学科竞赛指导教师学校审核</text></g>
<g id="o6e" class="l lb"><rect x="263" y="5891" width="416" height="58"/><text x="471" y="5920">优秀学科竞赛指导教师查询管理</text></g>
<g id="o7a" class="l lb"><rect x="151" y="5966" width="472" height="58"/><text x="387" y="5995">优秀本科教学服务保障人员项目管理</text></g>
<g id="o7b" class="l lb"><rect x="207" y="6041" width="416" height="58"/><text x="415" y="6070">优秀本科教学服务保障人员申报</text></g>
<g id="o7c" class="l lb"><rect x="97" y="6116" width="526" height="58"/><text x="360" y="6145">优秀本科教学服务保障人员院（部）审核</text></g>
<g id="o7d" class="l lb"><rect x="151" y="6191" width="472" height="58"/><text x="387" y="6220">优秀本科教学服务保障人员学校审核</text></g>
<g id="o7e" class="l lb"><rect x="151" y="6266" width="472" height="58"/><text x="387" y="6295">优秀本科教学服务保障人员查询管理</text></g>
<g id="o8a" class="l lb"><rect x="151" y="6341" width="472" height="58"/><text x="387" y="6370">优秀本科教学实验指导教师项目管理</text></g>
<g id="o8b" class="l lb"><rect x="207" y="6416" width="416" height="58"/><text x="415" y="6445">优秀本科教学实验指导教师申报</text></g>
<g id="o8c" class="l lb"><rect x="97" y="6492" width="526" height="58"/><text x="360" y="6521">优秀本科教学实验指导教师院（部）审核</text></g>
<g id="o8d" class="l lb"><rect x="151" y="6567" width="472" height="58"/><text x="387" y="6596">优秀本科教学实验指导教师学校审核</text></g>
<g id="o8e" class="l lb"><rect x="151" y="6642" width="472" height="58"/><text x="387" y="6671">优秀本科教学实验指导教师查询管理</text></g>
<g id="o9a" class="l lb"><rect x="487" y="6717" width="304" height="58"/><text x="639" y="6746">教学技能竞赛项目管理</text></g>
<g id="o9b" class="l lb"><rect x="543" y="6792" width="248" height="58"/><text x="667" y="6821">教学技能竞赛申报</text></g>
<g id="o9c" class="l lb"><rect x="433" y="6867" width="358" height="58"/><text x="612" y="6896">教学技能竞赛院（部）审核</text></g>
<g id="o9d" class="l lb"><rect x="487" y="6942" width="304" height="58"/><text x="639" y="6971">教学技能竞赛学校审核</text></g>
<g id="o9e" class="l lb"><rect x="487" y="7017" width="304" height="58"/><text x="639" y="7046">教学技能竞赛查询管理</text></g>
<g id="o9f" class="l lb"><rect x="487" y="7092" width="304" height="58"/><text x="639" y="7121">教学技能竞赛网络评审</text></g>
<text class="wm" x="1805" y="7431">Presented with <tspan font-weight="bold">xmind</tspan></text>
</svg>
